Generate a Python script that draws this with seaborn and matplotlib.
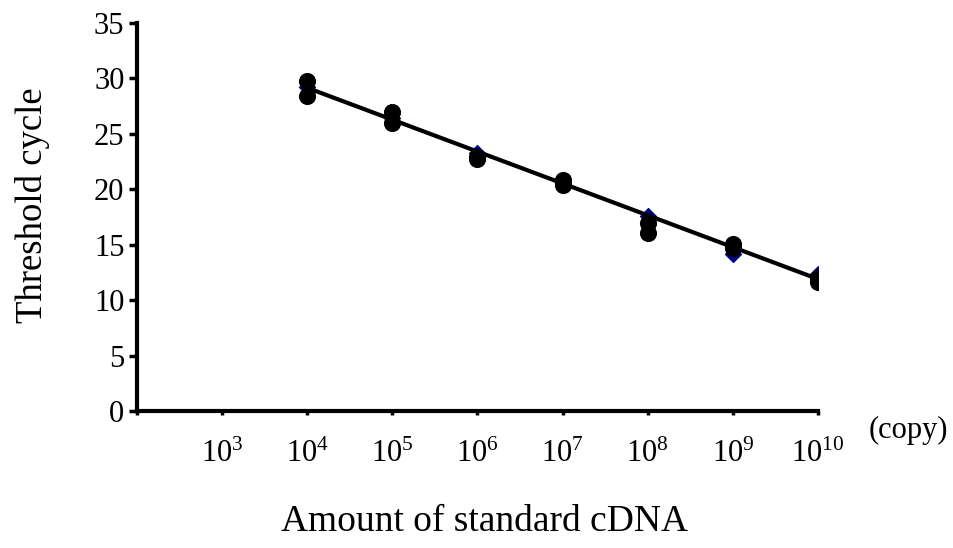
import numpy as np
import pandas as pd
import matplotlib
matplotlib.use("Agg")
import matplotlib.pyplot as plt
import seaborn as sns

# Standard curve: log10 copy number of standard cDNA vs threshold cycle
log_copies = [4, 5, 6, 7, 8, 9, 10]
ct_rep1 = [29.8, 27.0, 22.9, 20.8, 17.0, 15.1, 12.0]
ct_rep2 = [28.4, 26.0, 22.7, 20.4, 16.1, 14.7, 11.6]
ct_mean = [29.2, 26.4, 23.3, 20.6, 17.6, 14.2, 12.4]

tick_positions = [2, 3, 4, 5, 6, 7, 8, 9, 10]
tick_labels = ["", r"$\mathregular{10^{3}}$", r"$\mathregular{10^{4}}$",
               r"$\mathregular{10^{5}}$", r"$\mathregular{10^{6}}$",
               r"$\mathregular{10^{7}}$", r"$\mathregular{10^{8}}$",
               r"$\mathregular{10^{9}}$", r"$\mathregular{10^{10}}$"]
y_ticks = [0, 5, 10, 15, 20, 25, 30, 35]

sns.set_style("white")
plt.rcParams["font.family"] = ["Liberation Serif", "DejaVu Serif"]
plt.rcParams["mathtext.fontset"] = "custom"
plt.rcParams["mathtext.rm"] = "Liberation Serif"
plt.rcParams["text.color"] = "black"
plt.rcParams["axes.labelcolor"] = "black"

reps = pd.DataFrame({
    "log_copies": log_copies * 2,
    "ct": ct_rep1 + ct_rep2,
})
means = pd.DataFrame({"log_copies": log_copies, "ct": ct_mean})

fig = plt.figure(figsize=(9.54, 5.48), dpi=100)
ax = fig.add_axes([0.1436, 0.25, 0.7138, 0.708])

sns.scatterplot(data=means, x="log_copies", y="ct", marker="D", s=70,
                color="#000080", edgecolor="#000080", ax=ax, zorder=2)
sns.regplot(data=means, x="log_copies", y="ct", scatter=False, ci=None,
            line_kws={"color": "black", "lw": 3.0, "zorder": 3},
            truncate=True, ax=ax)
sns.scatterplot(data=reps, x="log_copies", y="ct", marker="o", s=130,
                color="black", edgecolor="black", ax=ax, zorder=4)

ax.set_xlim(2, 10)
ax.set_ylim(0, 35)
ax.set_xticks(tick_positions)
ax.set_xticklabels(tick_labels)
ax.set_yticks(y_ticks)

for side in ["top", "right"]:
    ax.spines[side].set_visible(False)
for side in ["left", "bottom"]:
    ax.spines[side].set_linewidth(3)
    ax.spines[side].set_color("black")

ax.tick_params(axis="y", direction="out", length=6, width=2.5,
               labelsize=22, pad=3, left=True, colors="black")
ax.tick_params(axis="x", direction="out", length=3, width=2.5,
               labelsize=22, pad=18, bottom=True, colors="black")

ax.set_xlabel("Amount of standard cDNA", fontsize=27)
ax.set_ylabel("Threshold cycle", fontsize=26.5)
ax.xaxis.set_label_coords(0.511, -0.242)
ax.yaxis.set_label_coords(-0.128, 0.531)

fig.text(0.911, 0.215, "(copy)", fontsize=22, ha="left", va="center")

fig.savefig("out.png", dpi=100)
